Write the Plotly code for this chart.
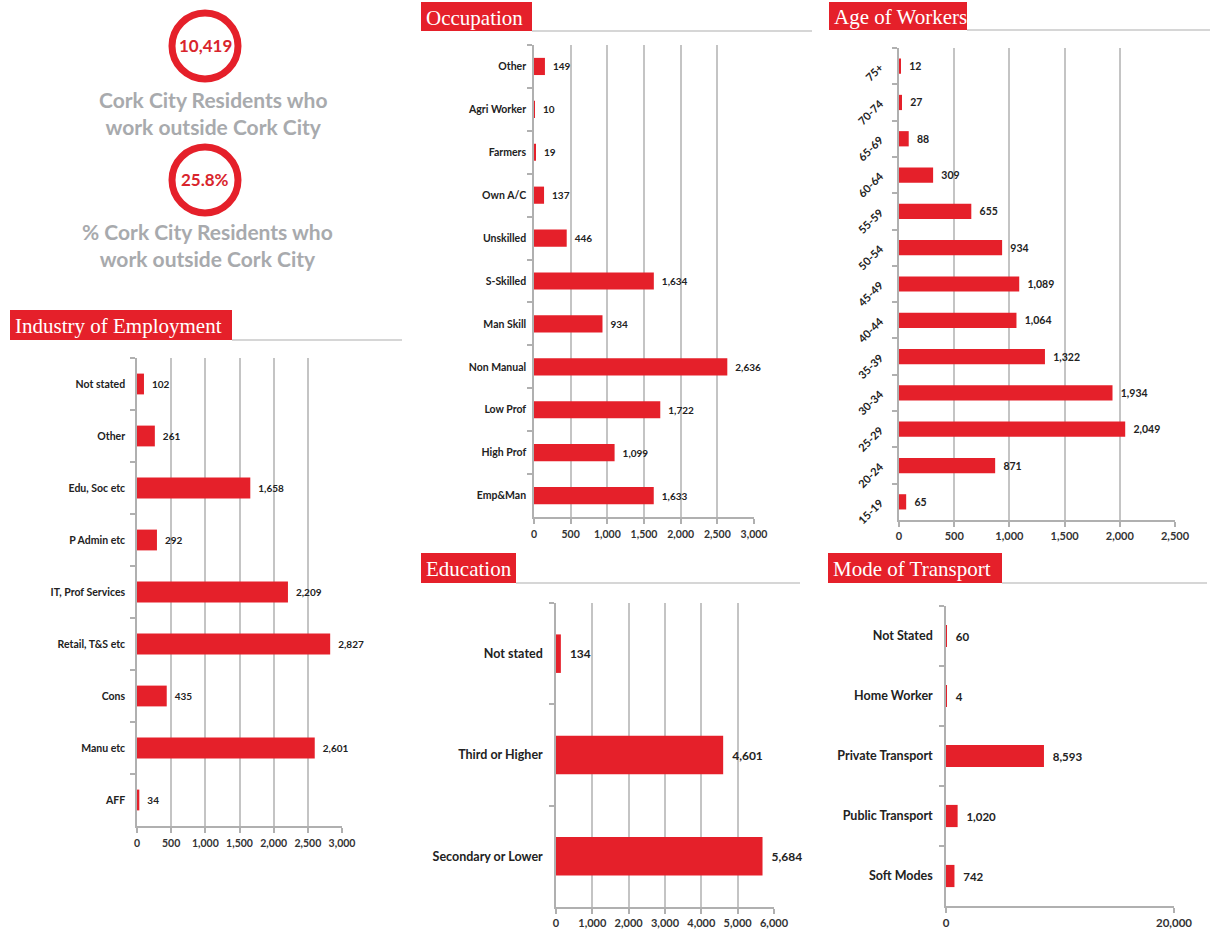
import plotly.graph_objects as go

W, H = 1213, 931

# ---- data -------------------------------------------------------------
industry_labels = ["Not stated", "Other", "Edu, Soc etc", "P Admin etc", "IT, Prof Services",
                   "Retail, T&S etc", "Cons", "Manu etc", "AFF"]
industry_values = [102, 261, 1658, 292, 2209, 2827, 435, 2601, 34]

occupation_labels = ["Other", "Agri Worker", "Farmers", "Own A/C", "Unskilled", "S-Skilled",
                     "Man Skill", "Non Manual", "Low Prof", "High Prof", "Emp&Man"]
occupation_values = [149, 10, 19, 137, 446, 1634, 934, 2636, 1722, 1099, 1633]

age_labels = ["75+", "70-74", "65-69", "60-64", "55-59", "50-54", "45-49", "40-44",
              "35-39", "30-34", "25-29", "20-24", "15-19"]
age_values = [12, 27, 88, 309, 655, 934, 1089, 1064, 1322, 1934, 2049, 871, 65]

education_labels = ["Not stated", "Third or Higher", "Secondary or Lower"]
education_values = [134, 4601, 5684]

transport_labels = ["Not Stated", "Home Worker", "Private Transport", "Public Transport", "Soft Modes"]
transport_values = [60, 4, 8593, 1020, 742]

kpi_values = ["10,419", "25.8%"]
kpi_captions = ["Cork City Residents who<br>work outside Cork City",
                "% Cork City Residents who<br>work outside Cork City"]

# ---- style ------------------------------------------------------------
RED = "#e5202a"
GRID = "#c4c4c4"
AXIS = "#b0b0b0"
SANS = "Lato, 'Open Sans', sans-serif"
SERIF = "'Liberation Serif', 'DejaVu Serif', serif"


def px(x):
    return x / W


def py(y):
    return 1 - y / H


panels = [
    dict(title="Industry of Employment", labels=industry_labels, values=industry_values,
         plot=(137, 342, 358, 826), xmax=3000, dtick=500, bw=0.4, lab=10.5, val=10, tick=10.5,
         box=(10, 232, 310, 340), rule=402, angle=0, standoff=8, xstandoff=2),
    dict(title="Occupation", labels=occupation_labels, values=occupation_values,
         plot=(534, 754, 45, 517), xmax=3000, dtick=500, bw=0.4, lab=10.5, val=10, tick=10.5,
         box=(421, 532, 2, 31), rule=812, angle=0, standoff=4, xstandoff=2),
    dict(title="Age of Workers", labels=age_labels, values=age_values,
         plot=(899, 1175, 48, 520), xmax=2500, dtick=500, bw=0.42, lab=11, val=10.5, tick=11,
         box=(829, 967, 2, 30), rule=1210, angle=-45, standoff=15, xstandoff=0),
    dict(title="Education", labels=education_labels, values=education_values,
         plot=(556, 774, 603, 907), xmax=6000, dtick=1000, bw=0.38, lab=12.5, val=12, tick=11,
         box=(421, 516, 553, 583), rule=800, angle=0, standoff=9, xstandoff=0),
    dict(title="Mode of Transport", labels=transport_labels, values=transport_values,
         plot=(946, 1174, 606, 906), xmax=20000, dtick=20000, bw=0.37, lab=12.5, val=11.5, tick=11.5,
         box=(828, 1002, 553, 583), rule=1207, angle=0, standoff=9, xstandoff=0),
]

fig = go.Figure()
layout = dict(width=W, height=H, autosize=False,
              margin=dict(l=0, r=0, t=0, b=0, pad=0),
              paper_bgcolor="white", plot_bgcolor="white",
              showlegend=False)
shapes = []
annotations = []

for i, p in enumerate(panels, start=1):
    xa = "x" if i == 1 else f"x{i}"
    ya = "y" if i == 1 else f"y{i}"
    x0, x1, y0, y1 = p["plot"]
    fig.add_trace(go.Bar(
        x=p["values"], y=p["labels"], orientation="h",
        xaxis=xa, yaxis=ya, width=p["bw"],
        marker=dict(color=RED, line=dict(width=0)),
        texttemplate="\u2002%{x:,}", textposition="outside", constraintext="none",
        cliponaxis=False,
        textfont=dict(family=SANS, size=p["val"], color="#222222", weight="bold"),
        hoverinfo="skip",
    ))
    layout["xaxis" if i == 1 else f"xaxis{i}"] = dict(
        domain=[px(x0), px(x1)], anchor=ya, range=[0, p["xmax"]], dtick=p["dtick"],
        tickformat=",", showgrid=True, gridcolor=GRID, gridwidth=1.5, zeroline=False,
        showline=True, linecolor=AXIS, linewidth=1.5, ticks="outside", ticklen=5,
        tickcolor=AXIS, tickwidth=1.5, ticklabelstandoff=p["xstandoff"], automargin=False,
        fixedrange=True,
        tickfont=dict(family=SANS, size=p["tick"], color="#333333", weight="bold"),
    )
    layout["yaxis" if i == 1 else f"yaxis{i}"] = dict(
        domain=[py(y1), py(y0)], anchor=xa, type="category", autorange="reversed",
        showgrid=False, zeroline=False, showline=True, linecolor=AXIS, linewidth=1.5,
        ticks="outside", tickson="boundaries", ticklen=5, tickcolor=AXIS, tickwidth=1.5,
        tickangle=p["angle"], ticklabelstandoff=p["standoff"], automargin=False, fixedrange=True,
        tickfont=dict(family=SANS, size=p["lab"], color="#222222", weight="bold"),
    )
    # section header: red tab with a grey rule running to the right
    bx0, bx1, by0, by1 = p["box"]
    shapes.append(dict(type="rect", xref="paper", yref="paper",
                       x0=px(bx0), x1=px(bx1), y0=py(by1), y1=py(by0),
                       fillcolor=RED, line=dict(width=0), layer="below"))
    shapes.append(dict(type="line", xref="paper", yref="paper",
                       x0=px(bx1), x1=px(p["rule"]), y0=py(by1), y1=py(by1),
                       line=dict(color="#c8c8c8", width=1.5)))
    annotations.append(dict(text=p["title"], xref="paper", yref="paper",
                            x=px(bx0 + 3), y=py((by0 + by1) / 2 + 1), xanchor="left", yanchor="middle",
                            showarrow=False,
                            font=dict(family=SERIF, size=21, color="white")))

# headline figures in red rings
kpi_centres = [(205, 46), (205, 180)]
caption_pos = [(213, 113), (207, 245)]
for (cx, cy), val, (tx, ty), cap in zip(kpi_centres, kpi_values, caption_pos, kpi_captions):
    r = 33
    shapes.append(dict(type="circle", xref="paper", yref="paper",
                       x0=px(cx - r), x1=px(cx + r), y0=py(cy + r), y1=py(cy - r),
                       line=dict(color=RED, width=7), fillcolor="rgba(0,0,0,0)"))
    annotations.append(dict(text=val, xref="paper", yref="paper", x=px(cx), y=py(cy),
                            xanchor="center", yanchor="middle", showarrow=False,
                            font=dict(family=SANS, size=17, color="#d9242c", weight="bold")))
    annotations.append(dict(text=cap, xref="paper", yref="paper", x=px(tx), y=py(ty),
                            xanchor="center", yanchor="middle", showarrow=False,
                            font=dict(family=SANS, size=21, color="#a8aaad", weight="bold")))

layout["shapes"] = shapes
layout["annotations"] = annotations
fig.update_layout(**layout)

page_js = "document.documentElement.style.margin='0';document.body.style.margin='0';"
fig.write_html("out.html", config=dict(displayModeBar=False), post_script=page_js)
